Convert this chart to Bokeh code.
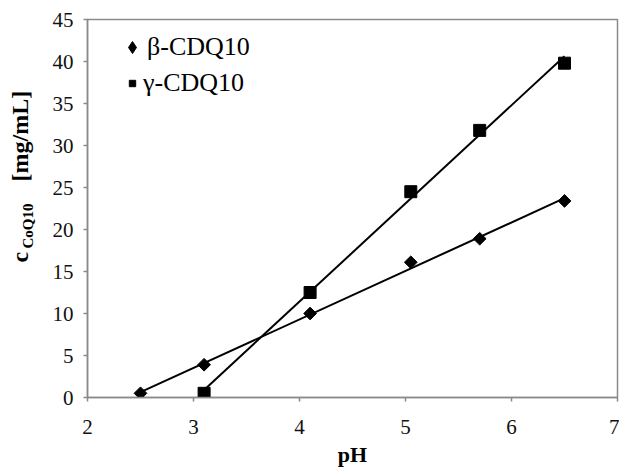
import numpy as np
from bokeh.plotting import figure
from bokeh.layouts import row
from bokeh.models import Label, Legend, LegendItem, Range1d, FixedTicker
from bokeh.embed import file_html
from bokeh.resources import INLINE

# data
ph_beta = [2.5, 3.1, 4.1, 5.05, 5.7, 6.5]
c_beta = [0.5, 3.9, 10.0, 16.1, 18.9, 23.4]
ph_gamma = [3.1, 4.1, 5.05, 5.7, 6.5]
c_gamma = [0.5, 12.5, 24.5, 31.8, 39.8]
x_ticks = [2, 3, 4, 5, 6, 7]
y_ticks = [0, 5, 10, 15, 20, 25, 30, 35, 40, 45]
series_labels = ["β-CDQ10", "γ-CDQ10"]

FONT = "Liberation Serif"
GRAY = "#8a8a8a"

W, H = 619, 469
LW = 40            # width of the strip holding the y-axis title
TOP, BOTTOM = 19, 72

p = figure(width=W - LW, height=H, x_range=Range1d(2, 7), y_range=Range1d(0, 45),
           output_backend="svg", toolbar_location=None,
           min_border_left=87 - LW, min_border_right=2, min_border_top=TOP,
           min_border_bottom=BOTTOM)
p.xgrid.visible = False
p.ygrid.visible = False
p.outline_line_color = GRAY
p.outline_line_width = 1.5
p.background_fill_color = "white"
p.border_fill_color = "white"

p.xaxis.ticker = FixedTicker(ticks=x_ticks)
p.yaxis.ticker = FixedTicker(ticks=y_ticks)
for ax in (p.xaxis, p.yaxis):
    ax.axis_line_color = GRAY
    ax.axis_line_width = 1.5
    ax.major_tick_line_color = GRAY
    ax.major_tick_line_width = 1.5
    ax.major_tick_out = 4
    ax.major_tick_in = 0
    ax.minor_tick_line_color = None
    ax.major_label_text_font = FONT
    ax.major_label_text_font_size = "21px"
    ax.major_label_text_color = "#111111"
p.xaxis.major_label_standoff = 18
p.yaxis.major_label_standoff = 10

p.xaxis.axis_label = "pH"
p.xaxis.axis_label_text_font = FONT
p.xaxis.axis_label_text_font_style = "bold"
p.xaxis.axis_label_text_font_size = "22px"
p.xaxis.axis_label_text_color = "black"
p.xaxis.axis_label_standoff = 5

# trend lines fitted to the data
def fit_line(xs, ys):
    k, b = np.polyfit(xs, ys, 1)
    xx = np.array([min(xs), max(xs)])
    return xx, k * xx + b

bx, by = fit_line(ph_beta, c_beta)
gx, gy = fit_line(ph_gamma, c_gamma)
p.line(bx, by, line_color="black", line_width=2)
p.line(gx, gy, line_color="black", line_width=2)

p.scatter(ph_beta, c_beta, marker="square", angle=np.pi / 4, size=9,
          fill_color="black", line_color="black")
r_gamma = p.scatter(ph_gamma, c_gamma, marker="square", size=12,
                    fill_color="black", line_color="black")
# legend key for the diamond series (legend keys are drawn unrotated); no visible point
r_beta_key = p.scatter(x=[np.nan], y=[np.nan], marker="diamond", size=17,
                       fill_color="black", line_color="black")

legend_style = dict(margin=0, padding=0, spacing=0, glyph_height=30, label_height=26,
                    label_text_font=FONT, label_text_font_size="26px",
                    label_text_color="black", border_line_color=None,
                    background_fill_alpha=0)
leg_beta = Legend(items=[LegendItem(label=series_labels[0], renderers=[r_beta_key])],
                  location=(30, 335), glyph_width=30, label_standoff=-5, **legend_style)
leg_gamma = Legend(items=[LegendItem(label=series_labels[1], renderers=[r_gamma])],
                   location=(37, 299), glyph_width=16, label_standoff=3, **legend_style)
p.add_layout(leg_beta, "center")
p.add_layout(leg_gamma, "center")

# y-axis title strip (c with subscript CoQ10, then [mg/mL]); its frame is aligned
# with the main frame (page rows TOP .. H-BOTTOM), so y is given as H - page row
t = figure(width=LW, height=H, x_range=Range1d(0, LW), y_range=Range1d(BOTTOM, H - TOP),
           output_backend="svg", toolbar_location=None, min_border=0, title=None,
           min_border_top=TOP, min_border_bottom=BOTTOM,
           x_axis_type=None, y_axis_type=None)
t.xgrid.visible = False
t.ygrid.visible = False
t.outline_line_color = None
t.background_fill_color = "white"
t.border_fill_color = "white"

def ylab(x, y, text, size):
    t.add_layout(Label(x=x, y=y, text=text, angle=np.pi / 2, text_font=FONT,
                       text_font_style="bold", text_font_size=size, text_baseline="top",
                       text_align="left", text_color="black"))

ylab(6, H - 262, "c", "24px")
ylab(19, H - 248, "CoQ10", "15px")
ylab(6, H - 181, "[mg/mL]", "24px")

layout = row(t, p, spacing=0)
open("out.html", "w").write(file_html(layout, INLINE))
